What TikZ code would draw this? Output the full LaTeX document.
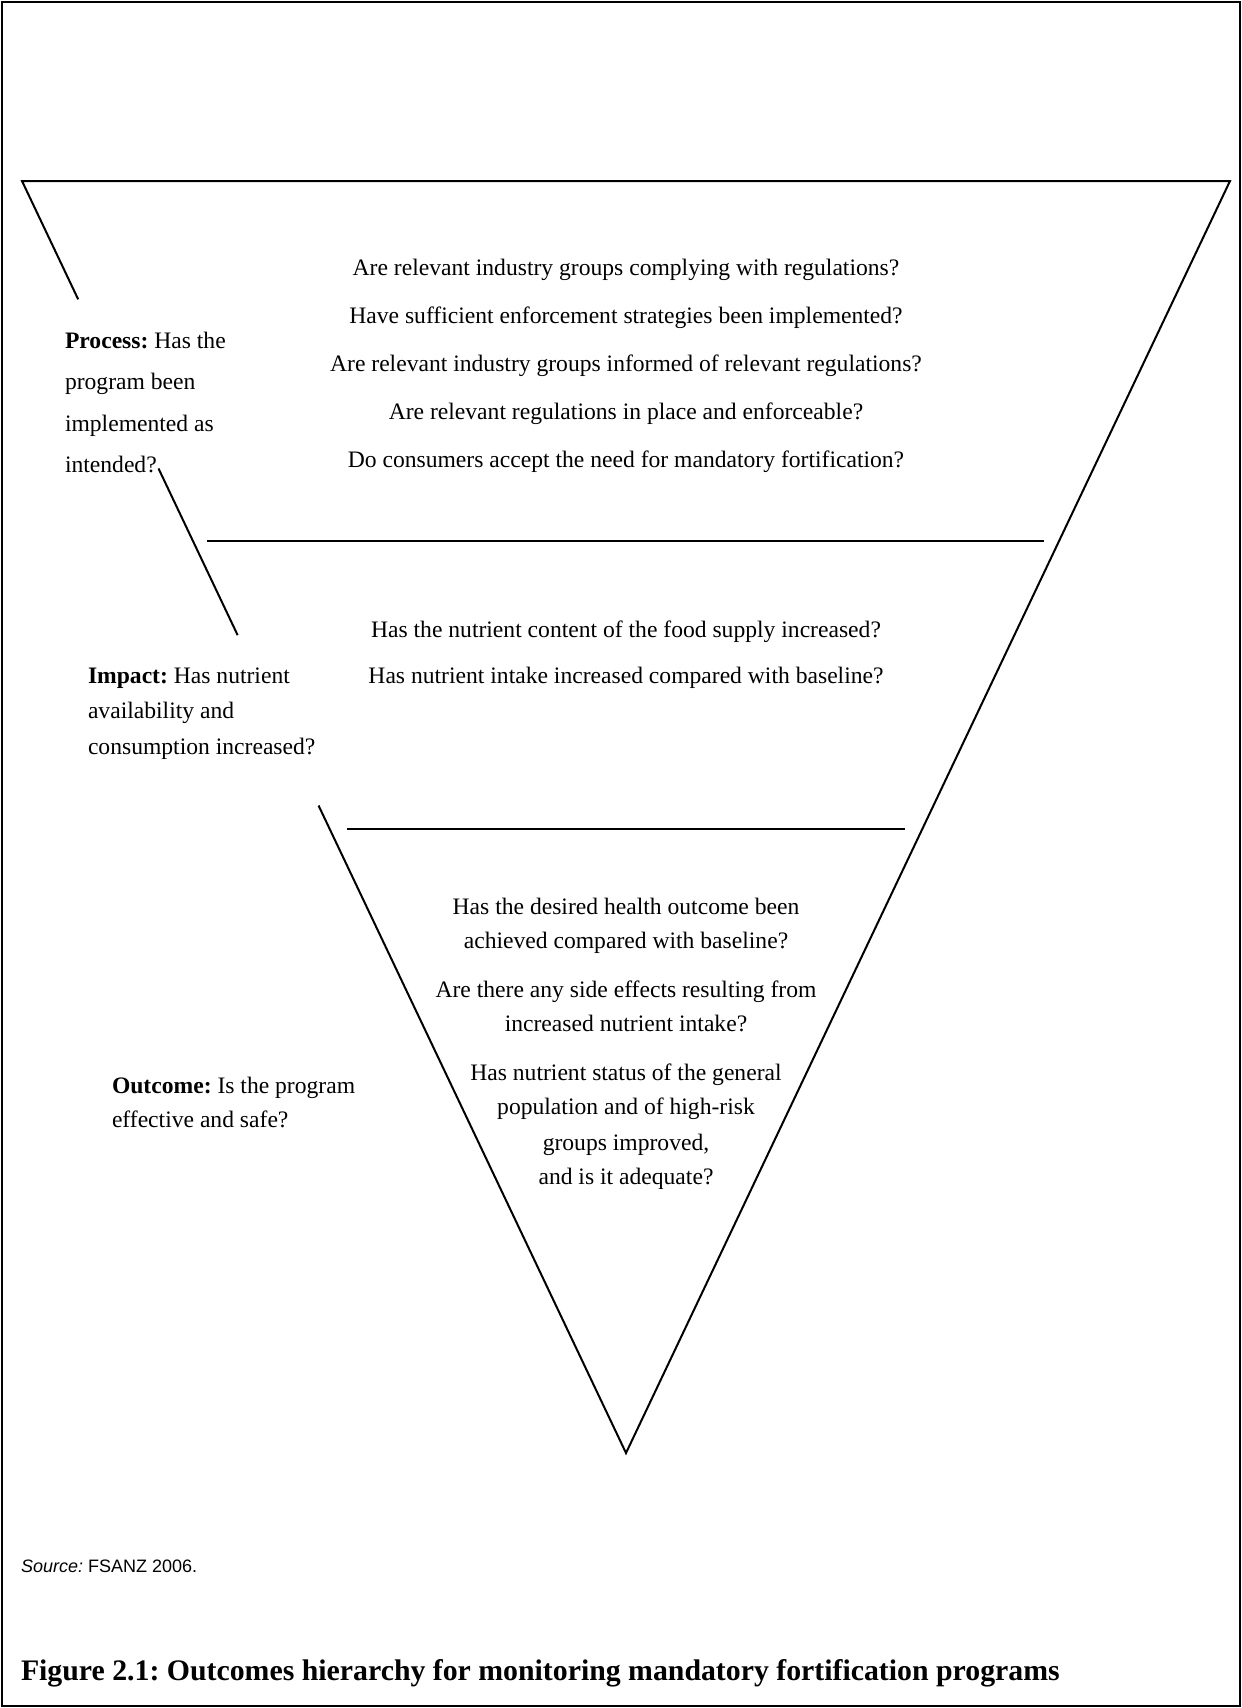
\documentclass[tikz,border=0pt]{standalone}
\usepackage{fontspec}
\setmainfont{Liberation Serif}
\setsansfont{Liberation Sans}
\frenchspacing
\begin{document}
\begin{tikzpicture}[
        x=0.5pt, y=-0.5pt,
        line width=1pt,
        question/.style ={align=center, anchor=base, inner sep=0pt, font=\fontsize{11.8}{24}\selectfont},
        level/.style ={align=left, anchor=base west, inner sep=0pt, font=\fontsize{11.8}{17}\selectfont},
    ]
    \useasboundingbox (0,0) rectangle (1242,1708);
    \draw (2,2) rectangle (1240,1706);

    % the funnel
    \coordinate (tl) at (22,181);
    \coordinate (tr) at (1230,181);
    \coordinate (apex) at (626,1453);
    \path (tl) -- (apex)
        coordinate[pos=.093] (gap1a) coordinate[pos=.226] (gap1b)
        coordinate[pos=.357] (gap2a) coordinate[pos=.491] (gap2b);
    \draw (gap1a) -- (tl) -- (tr) -- (apex) -- (gap2b);
    \draw (gap1b) -- (gap2a);
    \draw (207,540.5) -- (1044,540.5);
    \draw (347,829) -- (905,829);

    % base anchor = baseline of the last line
    \node[question] (processq) at (626,467.5) {Are relevant industry groups complying with regulations?\\Have sufficient enforcement strategies been implemented?\\Are relevant industry groups informed of relevant regulations?\\Are relevant regulations in place and enforceable?\\Do consumers accept the need for mandatory fortification?};
    \node[question, font=\fontsize{11.8}{23}\selectfont] (impactq) at (626,683) {Has the nutrient content of the food supply increased?\\Has nutrient intake increased compared with baseline?};
    \node[question, font=\fontsize{11.8}{17}\selectfont] (outcomeq) at (626,1184) {Has the desired health outcome been\\achieved compared with baseline?\\[7.5pt]Are there any side effects resulting from\\increased nutrient intake?\\[7.5pt]Has nutrient status of the general\\population and of high-risk\\[1pt]groups improved,\\and is it adequate?};

    \node[level, font=\fontsize{11.8}{20.75}\selectfont] (process) at (64,472.5) {\textbf{Process:} Has the\\program been\\implemented as\\intended?};
    \node[level, font=\fontsize{11.8}{17.7}\selectfont] (impact) at (87,754) {\textbf{Impact:} Has nutrient\\availability and\\consumption increased?};
    \node[level] (outcome) at (111,1127) {\textbf{Outcome:} Is the program\\effective and safe?};

    \node[anchor=base west, inner sep=0pt, font=\sffamily\fontsize{9}{11}\selectfont] (source) at (20,1572) {\textit{Source:} FSANZ 2006.};
    \node[anchor=base west, inner sep=0pt, font=\bfseries\fontsize{14.9}{17}\selectfont] (caption) at (20,1680) {Figure 2.1: Outcomes hierarchy for monitoring mandatory fortification programs};
\end{tikzpicture}
\end{document}
